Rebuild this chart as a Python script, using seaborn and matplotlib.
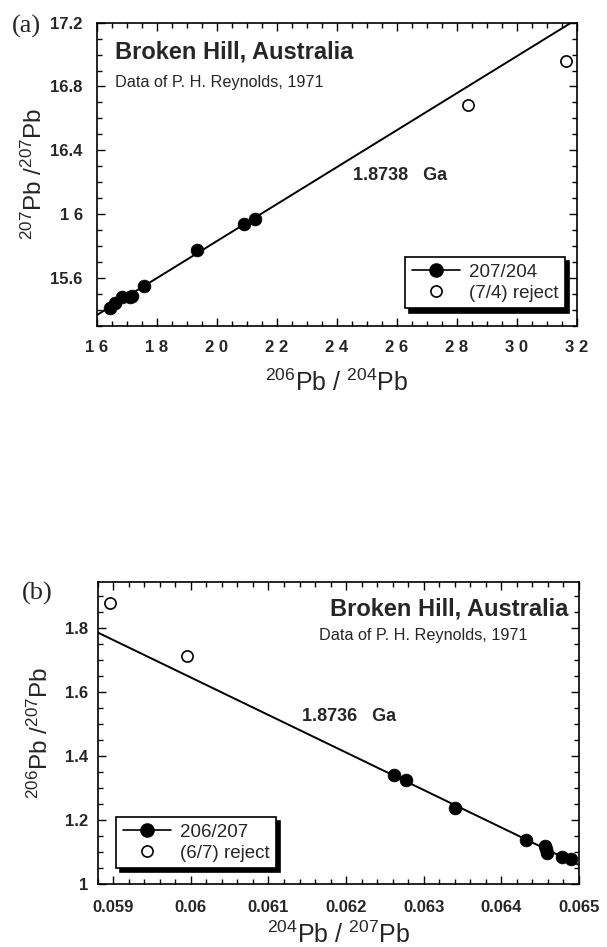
import numpy as np
import pandas as pd
import matplotlib
matplotlib.use("Agg")
import matplotlib.pyplot as plt
from matplotlib.ticker import MultipleLocator, FixedLocator, FixedFormatter
from matplotlib.lines import Line2D
import seaborn as sns

# ---------------- data ----------------
# panel (a): 207Pb/204Pb vs 206Pb/204Pb
a_x_fit = [16.44, 16.61, 16.85, 17.10, 17.17, 17.58, 19.35, 20.92, 21.27]
a_y_fit = [15.411, 15.444, 15.479, 15.482, 15.486, 15.552, 15.773, 15.935, 15.970]
a_x_rej = [28.36, 31.63]
a_y_rej = [16.684, 16.96]
a_xticks = [16, 18, 20, 22, 24, 26, 28, 30, 32]
a_xticklabels = ["1 6", "1 8", "2 0", "2 2", "2 4", "2 6", "2 8", "3 0", "3 2"]
a_yticks = [15.6, 16.0, 16.4, 16.8, 17.2]
a_yticklabels = ["15.6", "1 6", "16.4", "16.8", "17.2"]
a_age = "1.8738   Ga"

# panel (b): 206Pb/207Pb vs 204Pb/207Pb
b_x_fit = [0.062619, 0.062769, 0.063405, 0.064316, 0.064564, 0.064580, 0.064594, 0.064780, 0.064900]
b_y_fit = [1.342, 1.324, 1.2374, 1.1377, 1.119, 1.108, 1.0963, 1.0848, 1.0776]
b_x_rej = [0.058957, 0.059955]
b_y_rej = [1.878, 1.7115]
b_xticks = [0.059, 0.060, 0.061, 0.062, 0.063, 0.064, 0.065]
b_xticklabels = ["0.059", "0.06", "0.061", "0.062", "0.063", "0.064", "0.065"]
b_yticks = [1.0, 1.2, 1.4, 1.6, 1.8]
b_yticklabels = ["1", "1.2", "1.4", "1.6", "1.8"]
b_age = "1.8736   Ga"

title = "Broken Hill, Australia"
subtitle = "Data of P. H. Reynolds, 1971"

# ---------------- style ----------------
sns.set_style("white")
plt.rcParams["font.family"] = ["Liberation Sans", "DejaVu Sans"]
plt.rcParams["mathtext.fontset"] = "custom"
plt.rcParams["mathtext.rm"] = "Liberation Sans"
plt.rcParams["mathtext.it"] = "Liberation Sans:italic"
plt.rcParams["mathtext.bf"] = "Liberation Sans:bold"

W, H = 607, 947
fig = plt.figure(figsize=(W / 100, H / 100), dpi=100)


def px_axes(l, r, t, b):
    return fig.add_axes([l / W, 1 - b / H, (r - l) / W, (b - t) / H])


def style_axes(ax, xmaj, xlab, ymaj, ylab, xminor, yminor, xpad, ypad):
    for s in ax.spines.values():
        s.set_visible(True)
        s.set_color("black")
        s.set_linewidth(1.2)
    ax.xaxis.set_major_locator(FixedLocator(xmaj))
    ax.xaxis.set_major_formatter(FixedFormatter(xlab))
    ax.yaxis.set_major_locator(FixedLocator(ymaj))
    ax.yaxis.set_major_formatter(FixedFormatter(ylab))
    ax.xaxis.set_minor_locator(MultipleLocator(xminor))
    ax.yaxis.set_minor_locator(MultipleLocator(yminor))
    ax.tick_params(which="both", direction="in", top=True, right=True,
                   bottom=True, left=True, color="black", width=1.0)
    ax.tick_params(which="major", length=6)
    ax.tick_params(which="minor", length=3.5)
    ax.tick_params(axis="x", which="major", pad=xpad)
    ax.tick_params(axis="y", which="major", pad=ypad)
    for lab in ax.get_xticklabels() + ax.get_yticklabels():
        lab.set_fontweight("bold")
        lab.set_fontsize(12)


def draw(ax, xf, yf, xr, yr, xlim):
    df_fit = pd.DataFrame({"x": xf, "y": yf})
    df_rej = pd.DataFrame({"x": xr, "y": yr})
    coef = np.polyfit(df_fit["x"], df_fit["y"], 1)
    xl = np.array(xlim)
    df_line = pd.DataFrame({"x": xl, "y": np.polyval(coef, xl)})
    sns.lineplot(data=df_line, x="x", y="y", ax=ax, color="black", lw=1.4,
                 legend=False)
    sns.scatterplot(data=df_fit, x="x", y="y", ax=ax, color="black", s=85,
                    edgecolor="black", linewidth=0.5, legend=False, zorder=3)
    sns.scatterplot(data=df_rej, x="x", y="y", ax=ax, facecolor="white", s=65,
                    edgecolor="black", linewidth=1.2, legend=False, zorder=3)
    ax.set_xlim(xlim)


def legend(ax, lab1, lab2, loc, anchor):
    h1 = Line2D([], [], color="black", lw=1.2, marker="o", markersize=9.5,
                markerfacecolor="black", markeredgecolor="black")
    h2 = Line2D([], [], color="none", marker="o", markersize=8,
                markerfacecolor="white", markeredgecolor="black",
                markeredgewidth=1.2)
    leg = ax.legend([h1, h2], [lab1, lab2], loc=loc, bbox_to_anchor=anchor,
                    borderaxespad=0, fancybox=False, frameon=True,
                    edgecolor="black", framealpha=1, fontsize=13.5,
                    handlelength=2.6, handletextpad=0.45, labelspacing=0.2,
                    borderpad=0.35,
                    shadow={"color": "black", "alpha": 1, "ox": 3, "oy": -3})
    leg.get_frame().set_linewidth(1.2)


# ---------------- panel (a) ----------------
axa = px_axes(96.7, 577, 22.7, 325.7)
draw(axa, a_x_fit, a_y_fit, a_x_rej, a_y_rej, (16, 32))
axa.set_ylim(15.3, 17.2)
style_axes(axa, a_xticks, a_xticklabels, a_yticks, a_yticklabels, 0.5, 0.1, 10.5, 10)
axa.set_xlabel("$^{206}$Pb / $^{204}$Pb", fontsize=18)
axa.set_ylabel("$^{207}$Pb /$^{207}$Pb", fontsize=17.5)
axa.xaxis.set_label_coords(0.5, -0.19)
axa.xaxis.label.set_va("center")
axa.yaxis.set_label_coords(-0.13, 0.5)
axa.yaxis.label.set_va("center")
legend(axa, "207/204", "(7/4) reject", "lower right", (0.975, 0.057))

fig.text(115 / W, 1 - 51.7 / H, title, fontsize=17, fontweight="bold",
         ha="left", va="center")
fig.text(115 / W, 1 - 82.7 / H, subtitle, fontsize=11.7, ha="left", va="center")
fig.text(353 / W, 1 - 175 / H, a_age, fontsize=13, fontweight="bold",
         ha="left", va="center")
fig.text(12 / W, 1 - 26.7 / H, "(a)", fontsize=19, ha="left", va="center",
         family=["Liberation Serif", "DejaVu Serif"])

# ---------------- panel (b) ----------------
axb = px_axes(97.7, 579, 581.7, 884)
draw(axb, b_x_fit, b_y_fit, b_x_rej, b_y_rej, (0.0588, 0.065))
axb.set_ylim(1.0, 1.945)
style_axes(axb, b_xticks, b_xticklabels, b_yticks, b_yticklabels, 0.0002, 0.05, 11.5, 7)
axb.set_xlabel("$^{204}$Pb / $^{207}$Pb", fontsize=18)
axb.set_ylabel("$^{206}$Pb /$^{207}$Pb", fontsize=17.5)
axb.xaxis.set_label_coords(0.5, -0.168)
axb.xaxis.label.set_va("center")
axb.yaxis.set_label_coords(-0.12, 0.5)
axb.yaxis.label.set_va("center")
legend(axb, "206/207", "(6/7) reject", "lower left", (0.038, 0.052))

fig.text(568 / W, 1 - 609.3 / H, title, fontsize=17, fontweight="bold",
         ha="right", va="center")
fig.text(319 / W, 1 - 635 / H, subtitle, fontsize=11.7, ha="left", va="center")
fig.text(301.7 / W, 1 - 716.7 / H, b_age, fontsize=13, fontweight="bold",
         ha="left", va="center")
fig.text(21.7 / W, 1 - 593.3 / H, "(b)", fontsize=19, ha="left", va="center",
         family=["Liberation Serif", "DejaVu Serif"])

fig.savefig("out.png", dpi=100)
